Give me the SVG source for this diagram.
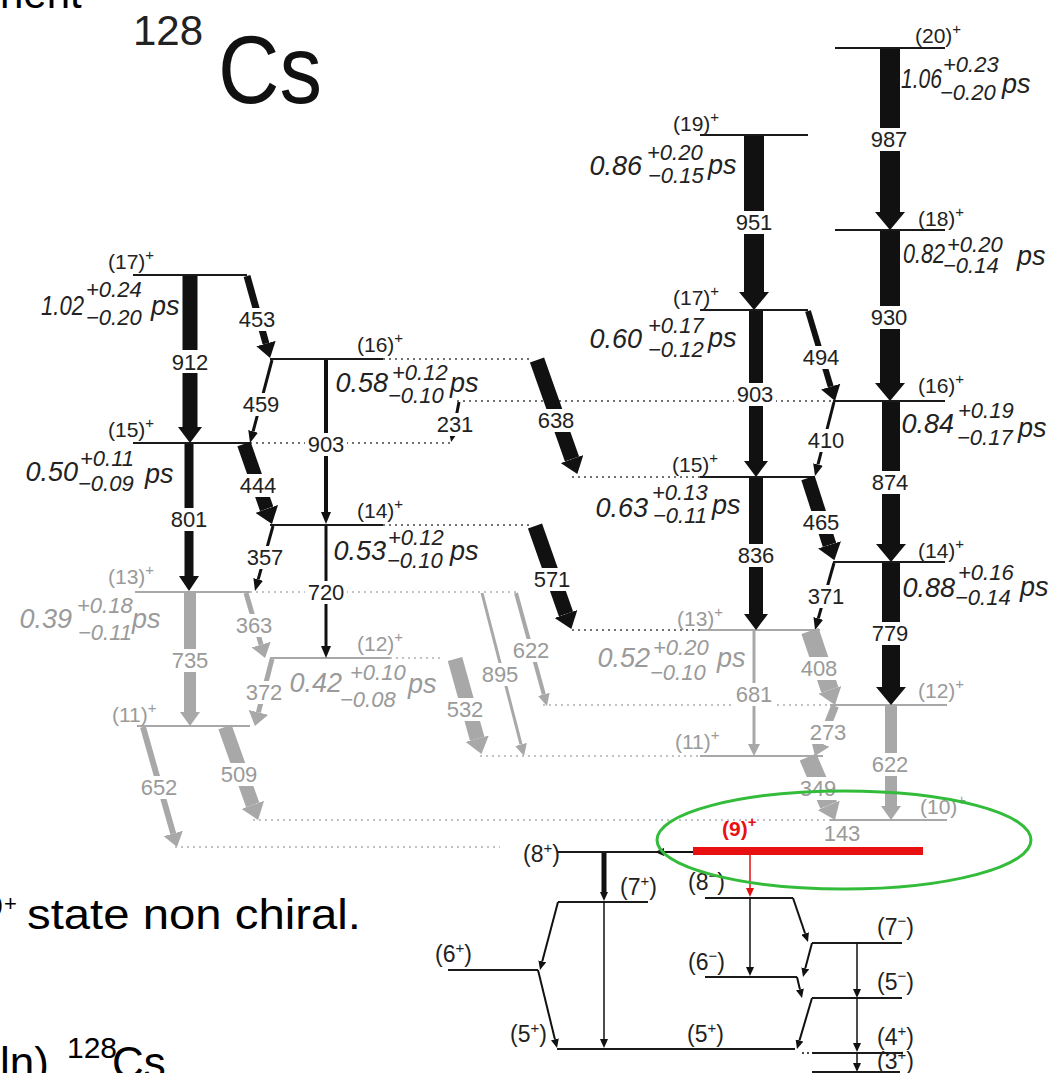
<svg xmlns="http://www.w3.org/2000/svg" width="1054" height="1073" viewBox="0 0 1054 1073">
<style>
text{font-family:"Liberation Sans",Arial,sans-serif}
.lv{stroke:#1a1a1a;stroke-width:2}
.lvg{stroke:#a8a8a8;stroke-width:2}
.dt{stroke:#444;stroke-width:1.5;stroke-dasharray:2 4}
.dtg{stroke:#b0b0b0;stroke-width:1.5;stroke-dasharray:2 4}
.tb{stroke:#111;fill:none}
.tg{stroke:#a8a8a8;fill:none}
.lbl{font-size:22px;text-anchor:middle;fill:#222}
.bg{fill:#fff}
.jl{font-size:21px;fill:#222}
.jb{font-size:23px;fill:#222}
.mn{font-size:27px;font-style:italic;fill:#222;text-anchor:end}
.ex{font-size:22px;font-style:italic;fill:#222}
.ps{font-size:27px;font-style:italic;fill:#222}
.big{font-size:42px;fill:#000}
.g{fill:#9a9a9a !important}
</style>
<defs>
<marker id="mX" markerUnits="userSpaceOnUse" viewBox="0 -15 18 30" markerWidth="18" markerHeight="30" refX="0" refY="0" orient="auto"><path d="M0,-15L18,0L0,15z" fill="#111"/></marker>
<marker id="mB" markerUnits="userSpaceOnUse" viewBox="0 -12 16 24" markerWidth="16" markerHeight="24" refX="0" refY="0" orient="auto"><path d="M0,-12L16,0L0,12z" fill="#111"/></marker>
<marker id="mM" markerUnits="userSpaceOnUse" viewBox="0 -10 15 20" markerWidth="15" markerHeight="20" refX="0" refY="0" orient="auto"><path d="M0,-10L15,0L0,10z" fill="#111"/></marker>
<marker id="mS" markerUnits="userSpaceOnUse" viewBox="0 -5 12 10" markerWidth="12" markerHeight="10" refX="0" refY="0" orient="auto"><path d="M0,-5L12,0L0,5z" fill="#111"/></marker>
<marker id="mT" markerUnits="userSpaceOnUse" viewBox="0 -4 9 8" markerWidth="9" markerHeight="8" refX="0" refY="0" orient="auto"><path d="M0,-4L9,0L0,4z" fill="#111"/></marker>
<marker id="gB" markerUnits="userSpaceOnUse" viewBox="0 -12 16 24" markerWidth="16" markerHeight="24" refX="0" refY="0" orient="auto"><path d="M0,-12L16,0L0,12z" fill="#a8a8a8"/></marker>
<marker id="gM" markerUnits="userSpaceOnUse" viewBox="0 -10 14 20" markerWidth="14" markerHeight="20" refX="0" refY="0" orient="auto"><path d="M0,-10L14,0L0,10z" fill="#a8a8a8"/></marker>
<marker id="gS" markerUnits="userSpaceOnUse" viewBox="0 -6 12 12" markerWidth="12" markerHeight="12" refX="0" refY="0" orient="auto"><path d="M0,-6L12,0L0,6z" fill="#a8a8a8"/></marker>
<marker id="rT" markerUnits="userSpaceOnUse" viewBox="0 -4 9 8" markerWidth="9" markerHeight="8" refX="0" refY="0" orient="auto"><path d="M0,-4L9,0L0,4z" fill="#e01010"/></marker>
</defs>
<rect width="1054" height="1073" fill="#fff"/>

<!-- slide texts -->
<text class="big" x="0" y="8" font-size="44">nent</text>
<text x="133" y="45" font-size="42" fill="#222">128</text>
<text x="218" y="103" font-size="96" fill="#111" textLength="104" lengthAdjust="spacingAndGlyphs">Cs</text>
<text x="-14" y="916" font-size="30" fill="#000">0</text>
<text x="4" y="911" font-size="22" fill="#000">+</text>
<text x="27" y="929" font-size="42" fill="#000" textLength="334" lengthAdjust="spacingAndGlyphs">state non chiral.</text>
<text x="0" y="1078" font-size="44" fill="#000">ln)</text>
<text x="67" y="1058" font-size="30" fill="#000">128</text>
<text x="112" y="1078" font-size="44" fill="#000">Cs</text>

<!-- dotted extensions -->
<g id="dotted">
<line class="dt" x1="383" y1="359" x2="533" y2="359"/>
<line class="dt" x1="250" y1="443" x2="450" y2="443"/>
<line class="dt" x1="383" y1="525" x2="530" y2="525"/>
<line class="dt" x1="457" y1="401" x2="833" y2="401"/>
<line class="dt" x1="572" y1="477" x2="700" y2="477"/>
<line class="dt" x1="572" y1="630" x2="700" y2="630"/>
<line class="dtg" x1="250" y1="592" x2="517" y2="592"/>
<line class="dtg" x1="390" y1="658" x2="443" y2="658"/>
<line class="dtg" x1="543" y1="705" x2="830" y2="705"/>
<line class="dtg" x1="480" y1="756" x2="700" y2="756"/>
<line class="dtg" x1="253" y1="820" x2="830" y2="820"/>
<line class="dtg" x1="175" y1="847" x2="500" y2="847"/>
</g>

<!-- levels -->
<g id="L17a"><line class="lv" x1="133" y1="275" x2="247" y2="275"/><text class="jl" x="108" y="269">(17)<tspan dy="-9" font-size="15">+</tspan></text>
<text class="mn" x="84" y="315" textLength="43" lengthAdjust="spacingAndGlyphs">1.02</text><text class="ex" x="86" y="297">+0.24</text><text class="ex" x="86" y="325">−0.20</text><text class="ps" x="151" y="315">ps</text></g>
<g id="L16a"><line class="lv" x1="270" y1="359" x2="383" y2="359"/><text class="jl" x="357" y="352">(16)<tspan dy="-9" font-size="15">+</tspan></text>
<text class="mn" x="388" y="392">0.58</text><text class="ex" x="392" y="380">+0.12</text><text class="ex" x="388" y="403">−0.10</text><text class="ps" x="450" y="392">ps</text></g>
<g id="L15a"><line class="lv" x1="133" y1="443" x2="250" y2="443"/><text class="jl" x="108" y="437">(15)<tspan dy="-9" font-size="15">+</tspan></text>
<text class="mn" x="78" y="481">0.50</text><text class="ex" x="80" y="466">+0.11</text><text class="ex" x="78" y="491">−0.09</text><text class="ps" x="145" y="483">ps</text></g>
<g id="L14a"><line class="lv" x1="270" y1="525" x2="383" y2="525"/><text class="jl" x="357" y="518">(14)<tspan dy="-9" font-size="15">+</tspan></text>
<text class="mn" x="386" y="560">0.53</text><text class="ex" x="388" y="545">+0.12</text><text class="ex" x="387" y="568">−0.10</text><text class="ps" x="450" y="560">ps</text></g>
<g id="L13a"><line class="lvg" x1="135" y1="592" x2="250" y2="592"/><text class="jl g" x="108" y="584">(13)<tspan dy="-9" font-size="15">+</tspan></text>
<text class="mn g" x="72" y="628">0.39</text><text class="ex g" x="77" y="613">+0.18</text><text class="ex g" x="78" y="640">−0.11</text><text class="ps g" x="132" y="628">ps</text></g>
<g id="L12a"><line class="lvg" x1="270" y1="658" x2="390" y2="658"/><text class="jl g" x="357" y="651">(12)<tspan dy="-9" font-size="15">+</tspan></text>
<text class="mn g" x="342" y="692">0.42</text><text class="ex g" x="350" y="680">+0.10</text><text class="ex g" x="340" y="707">−0.08</text><text class="ps g" x="408" y="693">ps</text></g>
<g id="L11a"><line class="lvg" x1="137" y1="726" x2="250" y2="726"/><text class="jl g" x="112" y="722">(11)<tspan dy="-9" font-size="15">+</tspan></text></g>

<g id="L19"><line class="lv" x1="700" y1="135" x2="808" y2="135"/><text class="jl" x="673" y="131">(19)<tspan dy="-9" font-size="15">+</tspan></text>
<text class="mn" x="642" y="175">0.86</text><text class="ex" x="647" y="160">+0.20</text><text class="ex" x="648" y="183">−0.15</text><text class="ps" x="708" y="174">ps</text></g>
<g id="L17b"><line class="lv" x1="700" y1="310" x2="808" y2="310"/><text class="jl" x="673" y="305">(17)<tspan dy="-9" font-size="15">+</tspan></text>
<text class="mn" x="642" y="348">0.60</text><text class="ex" x="648" y="333">+0.17</text><text class="ex" x="648" y="357">−0.12</text><text class="ps" x="708" y="347">ps</text></g>
<g id="L15b"><line class="lv" x1="700" y1="477" x2="815" y2="477"/><text class="jl" x="672" y="472">(15)<tspan dy="-9" font-size="15">+</tspan></text>
<text class="mn" x="648" y="517">0.63</text><text class="ex" x="652" y="500">+0.13</text><text class="ex" x="653" y="523">−0.11</text><text class="ps" x="712" y="514">ps</text></g>
<g id="L13b"><line class="lvg" x1="700" y1="630" x2="820" y2="630"/><text class="jl g" x="677" y="626">(13)<tspan dy="-9" font-size="15">+</tspan></text>
<text class="mn g" x="650" y="667">0.52</text><text class="ex g" x="653" y="655">+0.20</text><text class="ex g" x="650" y="680">−0.10</text><text class="ps g" x="717" y="667">ps</text></g>
<g id="L11b"><line class="lvg" x1="700" y1="756" x2="823" y2="756"/><text class="jl g" x="675" y="749">(11)<tspan dy="-9" font-size="15">+</tspan></text></g>

<g id="L20"><line class="lv" x1="835" y1="48" x2="945" y2="48"/><text class="jl" x="915" y="43">(20)<tspan dy="-9" font-size="15">+</tspan></text>
<text class="mn" x="942" y="88" textLength="41" lengthAdjust="spacingAndGlyphs">1.06</text><text class="ex" x="943" y="72">+0.23</text><text class="ex" x="940" y="100">−0.20</text><text class="ps" x="1002" y="93">ps</text></g>
<g id="L18"><line class="lv" x1="835" y1="230" x2="945" y2="230"/><text class="jl" x="918" y="226">(18)<tspan dy="-9" font-size="15">+</tspan></text>
<text class="mn" x="945" y="263" textLength="42" lengthAdjust="spacingAndGlyphs">0.82</text><text class="ex" x="947" y="252">+0.20</text><text class="ex" x="943" y="273">−0.14</text><text class="ps" x="1017" y="265">ps</text></g>
<g id="L16b"><line class="lv" x1="833" y1="401" x2="945" y2="401"/><text class="jl" x="918" y="393">(16)<tspan dy="-9" font-size="15">+</tspan></text>
<text class="mn" x="954" y="433">0.84</text><text class="ex" x="958" y="418">+0.19</text><text class="ex" x="957" y="445">−0.17</text><text class="ps" x="1018" y="437">ps</text></g>
<g id="L14b"><line class="lv" x1="833" y1="562" x2="945" y2="562"/><text class="jl" x="918" y="558">(14)<tspan dy="-9" font-size="15">+</tspan></text>
<text class="mn" x="955" y="597">0.88</text><text class="ex" x="958" y="580">+0.16</text><text class="ex" x="955" y="605">−0.14</text><text class="ps" x="1020" y="596">ps</text></g>
<g id="L12b"><line class="lvg" x1="830" y1="705" x2="947" y2="705"/><text class="jl g" x="918" y="698">(12)<tspan dy="-9" font-size="15">+</tspan></text></g>
<g id="L10"><line class="lvg" x1="830" y1="820" x2="947" y2="820"/><text class="jl g" x="920" y="814">(10)<tspan dy="-9" font-size="15">+</tspan></text></g>

<!-- low-lying levels -->
<g id="L8p"><line class="lv" stroke-width="1.5" x1="557" y1="852" x2="693" y2="852"/><text class="jb" x="523" y="862">(8<tspan dy="-9" font-size="15">+</tspan><tspan dy="9">)</tspan></text></g>
<g id="L7p"><line class="lv" stroke-width="1.5" x1="558" y1="902" x2="648" y2="902"/><text class="jb" x="620" y="895">(7<tspan dy="-9" font-size="15">+</tspan><tspan dy="9">)</tspan></text></g>
<g id="L6p"><line class="lv" stroke-width="1.5" x1="448" y1="970" x2="538" y2="970"/><text class="jb" x="435" y="962">(6<tspan dy="-9" font-size="15">+</tspan><tspan dy="9">)</tspan></text></g>
<g id="L5p"><line class="lv" stroke-width="1.5" x1="557" y1="1049" x2="795" y2="1049"/><text class="jb" x="510" y="1042">(5<tspan dy="-9" font-size="15">+</tspan><tspan dy="9">)</tspan></text><text class="jb" x="687" y="1042">(5<tspan dy="-9" font-size="15">+</tspan><tspan dy="9">)</tspan></text><line stroke="#111" stroke-width="1.5" stroke-dasharray="2 3" x1="802" y1="1053" x2="811" y2="1053"/></g>
<g id="L8m"><line class="lv" stroke-width="1.5" x1="705" y1="898" x2="793" y2="898"/><text class="jb" x="688" y="890">(8<tspan dy="-9" font-size="15">−</tspan><tspan dy="9">)</tspan></text></g>
<g id="L6m"><line class="lv" stroke-width="1.5" x1="705" y1="977" x2="797" y2="977"/><text class="jb" x="688" y="970">(6<tspan dy="-9" font-size="15">−</tspan><tspan dy="9">)</tspan></text></g>
<g id="L7m"><line class="lv" stroke-width="1.5" x1="812" y1="943" x2="902" y2="943"/><text class="jb" x="877" y="935">(7<tspan dy="-9" font-size="15">−</tspan><tspan dy="9">)</tspan></text></g>
<g id="L5m"><line class="lv" stroke-width="1.5" x1="812" y1="998" x2="902" y2="998"/><text class="jb" x="877" y="990">(5<tspan dy="-9" font-size="15">−</tspan><tspan dy="9">)</tspan></text></g>
<g id="L4p"><line class="lv" stroke-width="1.5" x1="812" y1="1053" x2="903" y2="1053"/><text class="jb" x="877" y="1045">(4<tspan dy="-9" font-size="15">+</tspan><tspan dy="9">)</tspan></text></g>
<g id="L3p"><line class="lv" stroke-width="1.5" x1="812" y1="1072" x2="900" y2="1072"/><text class="jb" x="877" y="1069">(3<tspan dy="-9" font-size="15">+</tspan><tspan dy="9">)</tspan></text></g>

<!-- transitions -->
<g id="connectors">
<line class="tb" stroke-width="15" x1="190" y1="276" x2="190" y2="427" marker-end="url(#mB)"/>
<line class="tb" stroke-width="7" x1="247" y1="276" x2="266" y2="343.6" marker-end="url(#mM)"/>
<line class="tb" stroke-width="3" x1="272" y1="360" x2="253.1" y2="431.4" marker-end="url(#mS)"/>
<line class="tb" stroke-width="14" x1="244" y1="444" x2="266.7" y2="508.9" marker-end="url(#mB)"/>
<line class="tb" stroke-width="9" x1="189" y1="444" x2="189" y2="576" marker-end="url(#mM)"/>
<line class="tb" stroke-width="3" x1="273" y1="526" x2="258.2" y2="579.4" marker-end="url(#mS)"/>
<line class="tb" stroke-width="4" x1="326" y1="360" x2="326" y2="512" marker-end="url(#mS)"/>
<line class="tb" stroke-width="3" x1="326" y1="526" x2="326" y2="646" marker-end="url(#mS)"/>
<line class="tb" stroke-width="3" x1="459" y1="402" x2="452.9" y2="433.2" marker-end="url(#mT)"/>
<line class="tb" stroke-width="15" x1="537" y1="360" x2="572" y2="459" marker-end="url(#mB)"/>
<line class="tb" stroke-width="15" x1="535" y1="526" x2="566" y2="614" marker-end="url(#mB)"/>
<line class="tg" stroke-width="12" x1="190" y1="593" x2="190" y2="712" marker-end="url(#gM)"/>
<line class="tg" stroke-width="5" x1="246" y1="593" x2="261.1" y2="644.6" marker-end="url(#gM)"/>
<line class="tg" stroke-width="5" x1="272" y1="659" x2="258.4" y2="712.4" marker-end="url(#gM)"/>
<line class="tg" stroke-width="6" x1="143" y1="727" x2="173.2" y2="833.5" marker-end="url(#gM)"/>
<line class="tg" stroke-width="14" x1="225" y1="727" x2="252.7" y2="804.9" marker-end="url(#gB)"/>
<line class="tg" stroke-width="15" x1="455" y1="659" x2="477.2" y2="738.7" marker-end="url(#gB)"/>
<line class="tg" stroke-width="3" x1="482" y1="593" x2="521" y2="744.4" marker-end="url(#gS)"/>
<line class="tg" stroke-width="4" x1="516" y1="593" x2="543.8" y2="694.4" marker-end="url(#gS)"/>
<line class="tb" stroke-width="20" x1="754" y1="136" x2="754" y2="292" marker-end="url(#mX)"/>
<line class="tb" stroke-width="14" x1="756" y1="311" x2="756" y2="461" marker-end="url(#mB)"/>
<line class="tb" stroke-width="14" x1="756" y1="478" x2="756" y2="614" marker-end="url(#mB)"/>
<line class="tb" stroke-width="6" x1="808" y1="311" x2="830.7" y2="386.6" marker-end="url(#mM)"/>
<line class="tb" stroke-width="3" x1="834" y1="402" x2="818" y2="464.4" marker-end="url(#mS)"/>
<line class="tb" stroke-width="14" x1="808" y1="478" x2="829.5" y2="544.9" marker-end="url(#mB)"/>
<line class="tb" stroke-width="3" x1="834" y1="563" x2="818.3" y2="618.4" marker-end="url(#mS)"/>
<line class="tb" stroke-width="20" x1="890" y1="49" x2="890" y2="212" marker-end="url(#mX)"/>
<line class="tb" stroke-width="20" x1="890" y1="231" x2="890" y2="383" marker-end="url(#mX)"/>
<line class="tb" stroke-width="18" x1="891" y1="402" x2="891" y2="544" marker-end="url(#mX)"/>
<line class="tb" stroke-width="18" x1="891" y1="563" x2="891" y2="687" marker-end="url(#mX)"/>
<line class="tg" stroke-width="3" x1="754" y1="631" x2="754" y2="744" marker-end="url(#gS)"/>
<line class="tg" stroke-width="18" x1="810" y1="631" x2="829.9" y2="689.8" marker-end="url(#gB)"/>
<line class="tg" stroke-width="8" x1="835" y1="706" x2="820.2" y2="743" marker-end="url(#gM)"/>
<line class="tg" stroke-width="18" x1="808" y1="757" x2="828.7" y2="805.3" marker-end="url(#gB)"/>
<line class="tg" stroke-width="12" x1="891" y1="706" x2="891" y2="806" marker-end="url(#gM)"/>
<line class="tb" stroke-width="1.5" x1="693" y1="852" x2="664" y2="852" marker-end="url(#mT)"/>
<line class="tb" stroke-width="5" x1="604" y1="853" x2="604" y2="892" marker-end="url(#mT)"/>
<line class="tb" stroke-width="1.5" x1="604" y1="902" x2="604" y2="1039" marker-end="url(#mT)"/>
<line class="tb" stroke-width="2" x1="558" y1="902" x2="542.3" y2="961.3" marker-end="url(#mT)"/>
<line class="tb" stroke-width="2" x1="538" y1="970" x2="554.9" y2="1039.3" marker-end="url(#mT)"/>
<line stroke="#e01010" stroke-width="1.5" x1="750" y1="855" x2="750" y2="888" marker-end="url(#rT)"/>
<line class="tb" stroke-width="1.5" x1="750" y1="898" x2="750" y2="967" marker-end="url(#mT)"/>
<line class="tb" stroke-width="2" x1="793" y1="898" x2="805.1" y2="933.5" marker-end="url(#mT)"/>
<line class="tb" stroke-width="2" x1="812" y1="943" x2="805.3" y2="968.3" marker-end="url(#mT)"/>
<line class="tb" stroke-width="2" x1="797" y1="977" x2="799.9" y2="989.3" marker-end="url(#mT)"/>
<line class="tb" stroke-width="2" x1="812" y1="998" x2="799.5" y2="1040.4" marker-end="url(#mT)"/>
<line class="tb" stroke-width="1.5" x1="857" y1="943" x2="857" y2="989" marker-end="url(#mT)"/>
<line class="tb" stroke-width="1.5" x1="857" y1="998" x2="857" y2="1043" marker-end="url(#mT)"/>
<line class="tb" stroke-width="1.5" x1="857" y1="1053" x2="857" y2="1063" marker-end="url(#mT)"/>

<g id="tlabels">
<rect class="bg" x="169" y="350" width="42" height="23"/><text class="lbl" x="190" y="370">912</text>
<rect class="bg" x="236" y="308" width="42" height="23"/><text class="lbl" x="257" y="327">453</text>
<rect class="bg" x="240" y="393" width="42" height="23"/><text class="lbl" x="261" y="412">459</text>
<rect class="bg" x="237" y="474" width="42" height="23"/><text class="lbl" x="258" y="493">444</text>
<rect class="bg" x="168" y="508" width="42" height="23"/><text class="lbl" x="189" y="527">801</text>
<rect class="bg" x="244" y="546" width="42" height="23"/><text class="lbl" x="265" y="565">357</text>
<rect class="bg" x="305" y="433" width="42" height="23"/><text class="lbl" x="326" y="452">903</text>
<rect class="bg" x="434" y="413" width="42" height="23"/><text class="lbl" x="455" y="432">231</text>
<rect class="bg" x="535" y="409" width="42" height="23"/><text class="lbl" x="556" y="428">638</text>
<rect class="bg" x="305" y="581" width="42" height="23"/><text class="lbl" x="326" y="600">720</text>
<rect class="bg" x="531" y="568" width="42" height="23"/><text class="lbl" x="552" y="587">571</text>
<rect class="bg" x="169" y="649" width="42" height="23"/><text class="lbl g" x="190" y="668">735</text>
<rect class="bg" x="233" y="614" width="42" height="23"/><text class="lbl g" x="254" y="633">363</text>
<rect class="bg" x="243" y="681" width="42" height="23"/><text class="lbl g" x="264" y="700">372</text>
<rect class="bg" x="138" y="776" width="42" height="23"/><text class="lbl g" x="159" y="795">652</text>
<rect class="bg" x="218" y="763" width="42" height="23"/><text class="lbl g" x="239" y="782">509</text>
<rect class="bg" x="444" y="698" width="42" height="23"/><text class="lbl g" x="465" y="717">532</text>
<rect class="bg" x="479" y="663" width="42" height="23"/><text class="lbl g" x="500" y="682">895</text>
<rect class="bg" x="510" y="639" width="42" height="23"/><text class="lbl g" x="531" y="658">622</text>
<rect class="bg" x="733" y="211" width="42" height="23"/><text class="lbl" x="754" y="230">951</text>
<rect class="bg" x="734" y="383" width="42" height="23"/><text class="lbl" x="755" y="402">903</text>
<rect class="bg" x="735" y="544" width="42" height="23"/><text class="lbl" x="756" y="563">836</text>
<rect class="bg" x="800" y="346" width="42" height="23"/><text class="lbl" x="821" y="365">494</text>
<rect class="bg" x="805" y="429" width="42" height="23"/><text class="lbl" x="826" y="448">410</text>
<rect class="bg" x="800" y="511" width="42" height="23"/><text class="lbl" x="821" y="530">465</text>
<rect class="bg" x="805" y="585" width="42" height="23"/><text class="lbl" x="826" y="604">371</text>
<rect class="bg" x="733" y="683" width="42" height="23"/><text class="lbl g" x="754" y="702">681</text>
<rect class="bg" x="798" y="657" width="42" height="23"/><text class="lbl g" x="819" y="676">408</text>
<rect class="bg" x="807" y="721" width="42" height="23"/><text class="lbl g" x="828" y="740">273</text>
<rect class="bg" x="797" y="777" width="42" height="23"/><text class="lbl g" x="818" y="796">349</text>
<text class="lbl g" x="842" y="841">143</text>
<rect class="bg" x="868" y="128" width="42" height="23"/><text class="lbl" x="889" y="147">987</text>
<rect class="bg" x="868" y="306" width="42" height="23"/><text class="lbl" x="889" y="325">930</text>
<rect class="bg" x="869" y="471" width="42" height="23"/><text class="lbl" x="890" y="490">874</text>
<rect class="bg" x="869" y="622" width="42" height="23"/><text class="lbl" x="890" y="641">779</text>
<rect class="bg" x="869" y="753" width="42" height="23"/><text class="lbl g" x="890" y="772">622</text>
</g>
</g>

<g id="L9">
<line stroke="#e81010" stroke-width="8" x1="693" y1="851" x2="923" y2="851"/>
<text x="722" y="836" font-size="21" font-weight="bold" fill="#e81010">(9)<tspan dy="-9" font-size="15">+</tspan></text>
</g>
<ellipse id="highlight" cx="844" cy="840" rx="187" ry="49" fill="none" stroke="#33bb3a" stroke-width="3"/>
</svg>
